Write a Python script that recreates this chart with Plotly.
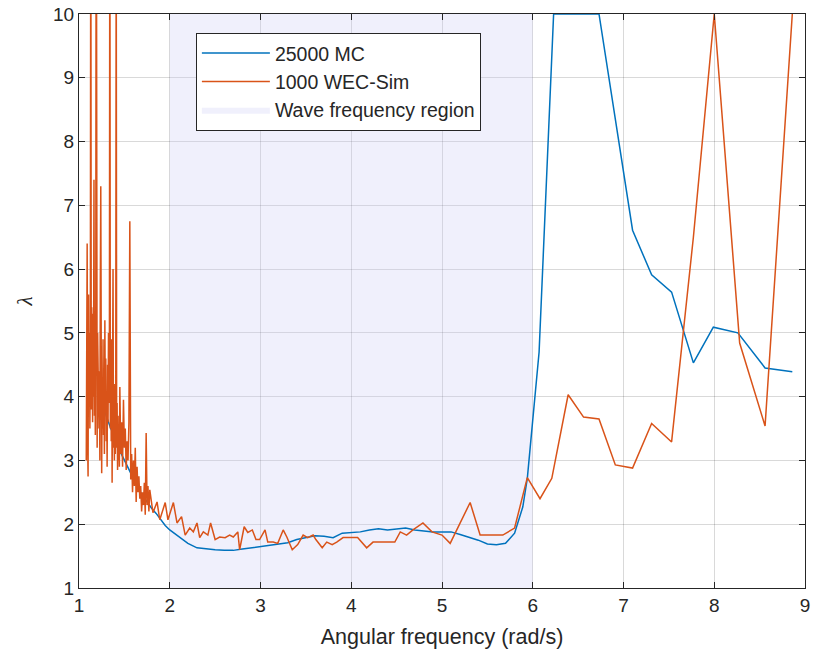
import plotly.graph_objects as go

# ---------------- data ----------------
mc_x = [1.25, 1.30, 1.35, 1.40, 1.45, 1.50, 1.55, 1.60, 1.65, 1.70, 1.75, 1.80, 1.85, 1.90, 1.95,
        2.00, 2.10, 2.20, 2.30, 2.40, 2.50, 2.60, 2.70, 2.80, 2.90, 3.00, 3.10, 3.20, 3.30, 3.40,
        3.50, 3.60, 3.70, 3.80, 3.90, 4.00, 4.10, 4.20, 4.30, 4.40, 4.50, 4.60, 4.70, 4.80, 4.90,
        5.00, 5.10, 5.20, 5.30, 5.40, 5.50, 5.60, 5.70, 5.80, 5.89, 5.94, 6.07, 6.23, 6.39, 6.56,
        6.73, 7.10, 7.31, 7.53, 7.77, 7.99, 8.26, 8.56, 8.86]
mc_y = [4.00, 3.70, 3.50, 3.35, 3.15, 3.00, 2.85, 2.70, 2.57, 2.45, 2.35, 2.25, 2.17, 2.07, 1.98,
        1.91, 1.80, 1.70, 1.63, 1.61, 1.60, 1.59, 1.59, 1.61, 1.63, 1.65, 1.67, 1.69, 1.71, 1.76,
        1.79, 1.82, 1.81, 1.79, 1.86, 1.87, 1.88, 1.91, 1.93, 1.91, 1.92, 1.94, 1.91, 1.89, 1.88,
        1.88, 1.88, 1.84, 1.80, 1.75, 1.69, 1.68, 1.70, 1.86, 2.27, 2.72, 4.70, 10.0, 10.0, 10.0,
        10.0, 6.61, 5.91, 5.64, 4.53, 5.09, 5.00, 4.45, 4.39]

wec_x = [1.080, 1.085, 1.090, 1.095, 1.100, 1.105, 1.110, 1.115, 1.120, 1.125,
         1.130, 1.135, 1.140, 1.145, 1.150, 1.155, 1.160, 1.165, 1.170, 1.175,
         1.180, 1.185, 1.190, 1.195, 1.200, 1.205, 1.210, 1.215, 1.220, 1.225,
         1.230, 1.235, 1.240, 1.245, 1.250, 1.255, 1.260, 1.265, 1.270, 1.275,
         1.280, 1.285, 1.290, 1.295, 1.300, 1.305, 1.310, 1.315, 1.320, 1.325,
         1.330, 1.335, 1.340, 1.345, 1.350, 1.355, 1.360, 1.365, 1.370, 1.375,
         1.380, 1.385, 1.390, 1.395, 1.400, 1.405, 1.410, 1.415, 1.420, 1.425,
         1.430, 1.435, 1.440, 1.445, 1.450,
         1.46, 1.47, 1.48, 1.49, 1.50, 1.51, 1.52, 1.53, 1.54, 1.55, 1.56, 1.57, 1.58, 1.59,
         1.60, 1.61, 1.62, 1.63, 1.64, 1.65, 1.66, 1.67, 1.68, 1.69, 1.70, 1.71, 1.72, 1.73,
         1.74, 1.75, 1.76, 1.77, 1.78,
         1.815, 1.86, 1.89, 1.95, 1.98, 2.04, 2.08, 2.13, 2.17, 2.22, 2.26, 2.30, 2.33, 2.37, 2.42,
         2.45, 2.50, 2.55, 2.61, 2.66, 2.70, 2.75, 2.77, 2.82, 2.86, 2.91, 2.95, 2.99, 3.05, 3.08,
         3.14, 3.19, 3.25, 3.29, 3.35, 3.41, 3.47, 3.52, 3.58, 3.61, 3.68, 3.73, 3.79, 3.84, 3.91,
         4.07, 4.17, 4.24, 4.48, 4.54, 4.61, 4.68, 4.79, 4.89, 5.00, 5.09, 5.31, 5.42, 5.67, 5.80,
         5.94, 6.08, 6.21, 6.39, 6.56, 6.73, 6.91, 7.10, 7.31, 7.53, 7.77, 8.00, 8.28, 8.56, 8.86]
wec_y = [3.00, 4.20, 6.40, 3.30, 2.75, 5.60, 4.00, 5.00, 3.50, 4.70,
         13.0, 3.80, 5.40, 4.40, 3.60, 5.30, 4.00, 7.40, 3.70, 4.90,
         3.40, 5.50, 14.0, 4.60, 3.20, 5.00, 4.10, 4.60, 3.50, 4.40,
         3.00, 5.80, 7.30, 4.80, 2.80, 4.20, 3.50, 4.90, 3.40, 4.30,
         3.10, 5.20, 3.80, 4.60, 3.30, 4.00, 2.90, 4.50, 3.60, 5.00,
         3.90, 4.40, 13.0, 3.50, 4.70, 3.30, 4.90, 2.65, 4.40, 6.00,
         3.20, 4.00, 3.00, 4.20, 3.10, 3.80, 12.0, 3.20, 3.90, 2.85,
         3.70, 3.00, 3.50, 2.90, 4.15,
         3.10, 3.60, 2.90, 3.95, 3.20, 3.50, 2.85, 3.30, 3.00, 3.60, 6.75, 2.70, 3.10, 2.50,
         3.00, 2.60, 3.20, 2.35, 2.90, 2.50, 2.75, 2.40, 2.60, 2.20, 2.50, 2.30, 2.65, 2.15,
         3.43, 2.30, 2.60, 2.20, 2.54,
         2.18, 2.35, 2.07, 2.34, 2.07, 2.34, 2.02, 2.12, 1.83, 1.94, 1.88, 2.02, 1.79, 1.88, 1.83,
         2.02, 1.76, 1.80, 1.79, 1.83, 1.80, 1.88, 1.60, 1.96, 1.87, 1.91, 1.76, 1.76, 1.91, 1.72,
         1.72, 1.70, 1.91, 1.80, 1.60, 1.68, 1.83, 1.79, 1.83, 1.76, 1.63, 1.72, 1.68, 1.72, 1.79,
         1.79, 1.63, 1.72, 1.72, 1.88, 1.83, 1.91, 2.02, 1.88, 1.83, 1.70, 2.34, 1.83, 1.83, 1.94,
         2.73, 2.40, 2.72, 4.03, 3.68, 3.65, 2.93, 2.88, 3.58, 3.29, 6.50, 10.0, 4.84, 3.54, 10.0]

region_x = [2, 6]
y_range = [1, 10]
x_range = [1, 9]
x_ticks = [1, 2, 3, 4, 5, 6, 7, 8, 9]
y_ticks = [1, 2, 3, 4, 5, 6, 7, 8, 9, 10]

# ---------------- figure ----------------
fig = go.Figure()

fig.add_trace(go.Scatter(
    x=[region_x[0], region_x[1], region_x[1], region_x[0], region_x[0]],
    y=[y_range[0], y_range[0], y_range[1], y_range[1], y_range[0]],
    fill="toself", mode="lines", line=dict(width=0),
    fillcolor="rgba(204,204,245,0.30)",
    name="Wave frequency region", legendrank=3, hoverinfo="skip"))

fig.add_trace(go.Scatter(x=mc_x, y=mc_y, mode="lines", name="25000 MC",
                         line=dict(color="#0072BD", width=1.5), legendrank=1))
fig.add_trace(go.Scatter(x=wec_x, y=wec_y, mode="lines", name="1000 WEC-Sim",
                         line=dict(color="#D95319", width=1.5), legendrank=2))

axis_common = dict(
    showgrid=True, gridcolor="rgba(0,0,0,0.15)", gridwidth=1,
    showline=True, linecolor="#262626", linewidth=1, mirror="ticks",
    ticks="inside", ticklen=6, tickcolor="#262626",
    tickfont=dict(family="Liberation Sans, Arial", size=19, color="#262626"),
    zeroline=False, automargin=False,
)

fig.update_xaxes(range=x_range, tickvals=x_ticks, **axis_common,
                 title=dict(text="Angular frequency (rad/s)",
                            font=dict(family="Liberation Sans, Arial", size=21.5, color="#262626"),
                            standoff=14))
fig.update_yaxes(range=y_range, tickvals=y_ticks, **axis_common,
                 title=dict(text="<i>λ</i>",
                            font=dict(family="Liberation Serif, Times New Roman", size=21, color="#262626"),
                            standoff=14))

fig.update_layout(
    width=813, height=661,
    margin=dict(l=79, r=8, t=14, b=73),
    paper_bgcolor="white", plot_bgcolor="white",
    showlegend=True,
    legend=dict(x=0.161, y=0.967, xanchor="left", yanchor="top",
                bgcolor="white", bordercolor="#262626", borderwidth=1,
                font=dict(family="Liberation Sans, Arial", size=19.5, color="#262626"),
                itemwidth=68, tracegroupgap=0),
)

fig.write_html("out.html")
